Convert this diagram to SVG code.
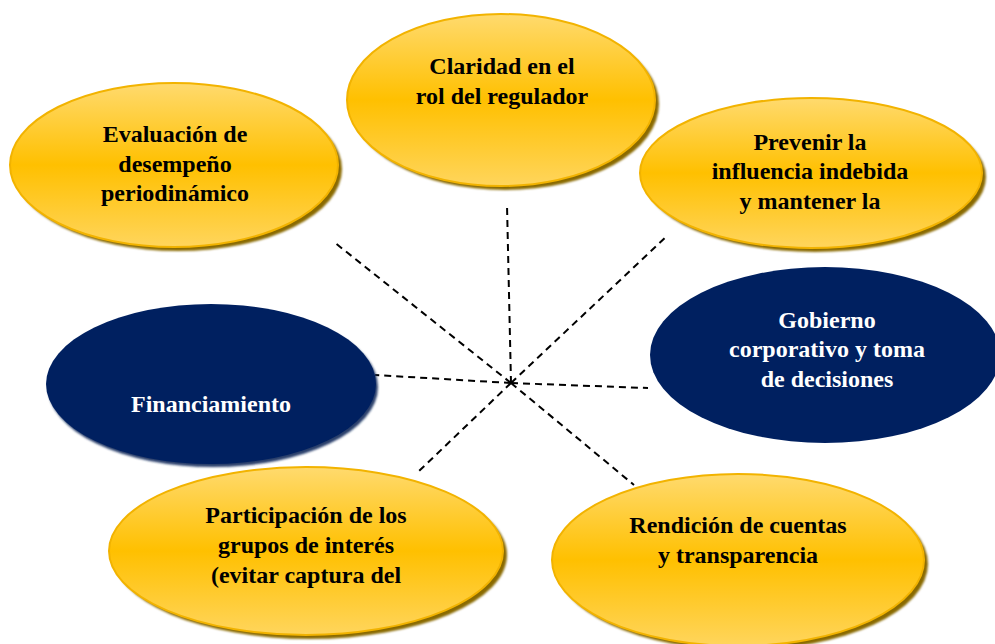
<svg xmlns="http://www.w3.org/2000/svg" width="995" height="644" viewBox="0 0 995 644">
<defs>
<linearGradient id="gold" x1="0" y1="0" x2="0" y2="1">
<stop offset="0" stop-color="#FFDA6E"/>
<stop offset="0.5" stop-color="#FFC000"/>
<stop offset="1" stop-color="#FFD55C"/>
</linearGradient>
<filter id="blur" x="-10%" y="-10%" width="120%" height="120%">
<feGaussianBlur stdDeviation="1.2"/>
</filter>
</defs>
<style>
.conn line{stroke:#000;stroke-width:2;stroke-dasharray:7 5;fill:none}
.gold{fill:url(#gold);stroke:#F2B300;stroke-width:2}
.gshadow{fill:#8A6A00;filter:url(#blur)}
.navy{fill:#002060}
.nshadow{fill:#2A3F6C;filter:url(#blur)}
text{font-family:"Liberation Serif","Times New Roman",serif;font-weight:bold;font-size:24px;text-anchor:middle}
.dk{fill:#000}
.lt{fill:#fff}
</style>
<rect width="995" height="644" fill="#fff"/>
<g class="conn" id="connectors">
<line x1="511" y1="383" x2="507" y2="205"/>
<line x1="511" y1="383" x2="334" y2="242"/>
<line x1="511" y1="383" x2="668" y2="235"/>
<line x1="511" y1="383" x2="375" y2="375"/>
<line x1="511" y1="383" x2="648" y2="388"/>
<line x1="511" y1="383" x2="418" y2="472"/>
<line x1="511" y1="383" x2="634" y2="485"/>
</g>
<g id="prevenir">
<ellipse class="gshadow" cx="815" cy="177" rx="171" ry="75"/>
<ellipse class="gold" cx="811" cy="173" rx="171" ry="75"/>
<text class="dk" x="810" y="150">Prevenir la</text>
<text class="dk" x="810" y="179">influencia indebida</text>
<text class="dk" x="810" y="209">y mantener la</text>
</g>
<g id="claridad">
<ellipse class="gshadow" cx="505" cy="104" rx="154" ry="86"/>
<ellipse class="gold" cx="501" cy="100" rx="154" ry="86"/>
<text class="dk" x="502" y="74">Claridad en el</text>
<text class="dk" x="502" y="104">rol del regulador</text>
</g>
<g id="evaluacion">
<ellipse class="gshadow" cx="178" cy="169" rx="164" ry="82"/>
<ellipse class="gold" cx="174" cy="165" rx="164" ry="82"/>
<text class="dk" x="175" y="142">Evaluación de</text>
<text class="dk" x="175" y="172">desempeño</text>
<text class="dk" x="175" y="201">periodinámico</text>
</g>
<g id="financiamiento">
<ellipse class="nshadow" cx="213" cy="387" rx="165" ry="80"/>
<ellipse class="navy" cx="211" cy="384" rx="165" ry="80"/>
<text class="lt" x="211" y="412">Financiamiento</text>
</g>
<g id="gobierno">
<ellipse class="navy" cx="825" cy="355" rx="175" ry="88"/>
<text class="lt" x="827" y="328">Gobierno</text>
<text class="lt" x="827" y="357">corporativo y toma</text>
<text class="lt" x="827" y="387">de decisiones</text>
</g>
<g id="participacion">
<ellipse class="gshadow" cx="310" cy="555" rx="197" ry="84"/>
<ellipse class="gold" cx="306" cy="551" rx="197" ry="84"/>
<text class="dk" x="306" y="523">Participación de los</text>
<text class="dk" x="306" y="553">grupos de interés</text>
<text class="dk" x="306" y="583">(evitar captura del</text>
</g>
<g id="rendicion">
<ellipse class="gshadow" cx="742" cy="564" rx="186" ry="86"/>
<ellipse class="gold" cx="738" cy="560" rx="186" ry="86"/>
<text class="dk" x="738" y="533">Rendición de cuentas</text>
<text class="dk" x="738" y="563">y transparencia</text>
</g>
</svg>
